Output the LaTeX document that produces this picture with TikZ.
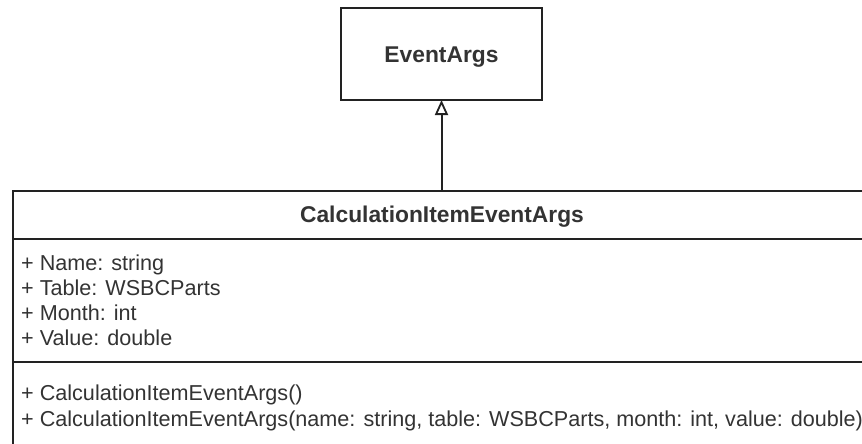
\documentclass[tikz,border=0pt]{standalone}
\usepackage{fontspec}
\setmainfont{Liberation Sans}
\usetikzlibrary{arrows.meta}
\definecolor{ink}{HTML}{222222}
\definecolor{txt}{HTML}{333333}
\tikzset{
  umlbox/.style={draw=ink, line width=2pt, fill=white, inner sep=0pt, outer sep=0pt},
  sepline/.style={draw=ink, line width=2pt},
  member/.style={anchor=base west, inner sep=0pt, text=txt, font=\fontsize{21.6}{26}\selectfont},
  title/.style={anchor=base, inner sep=0pt, text=txt, font=\fontsize{22.8}{26}\selectfont\bfseries},
  inherits/.style={draw=ink, line width=2pt, -{Triangle[open, length=15pt, width=13pt, line width=1.8pt]}}
}
\begin{document}
\begin{tikzpicture}[x=1pt, y=-1pt]
  \useasboundingbox (0,0) rectangle (862,444);
  \clip (0,0) rectangle (862,444);
  \fill[white] (0,0) rectangle (862,444);

  % base class
  \node[umlbox, minimum width=201pt, minimum height=92pt] (ea) at (441.5,54) {};
  \node[title] (eaname) at (441.5,62.5) {EventArgs};

  % derived class, running past the right and bottom edges
  \node[umlbox, anchor=north west, minimum width=857pt, minimum height=280pt] (cls) at (13,191) {};
  \coordinate (s1w) at (13,239);  \coordinate (s1e) at (870,239);
  \coordinate (s2w) at (13,362);  \coordinate (s2e) at (870,362);
  \draw[sepline] (s1w) -- (s1e);
  \draw[sepline] (s2w) -- (s2e);
  \node[title] (clsname) at (442,222.5) {CalculationItemEventArgs};

  % attributes
  \node[member] (a1) at (21,270.7) {+ Name: string};
  \node[member] (a2) at (21,295.5) {+ Table: WSBCParts};
  \node[member] (a3) at (21,320.3) {+ Month: int};
  \node[member] (a4) at (21,345.1) {+ Value: double};

  % operations
  \node[member] (m1) at (21,400.5) {+ CalculationItemEventArgs()};
  \node[member] (m2) at (21,426.5) {+ CalculationItemEventArgs(name: string, table: WSBCParts, month: int, value: double)};

  % generalization
  \draw[inherits] (cls.north) -- (ea.south);
\end{tikzpicture}
\end{document}
